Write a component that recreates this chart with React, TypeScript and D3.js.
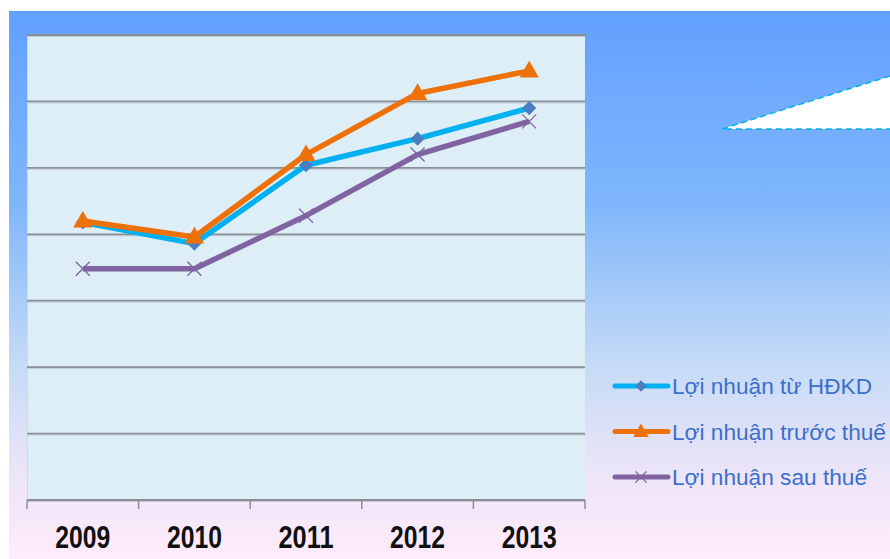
import * as d3 from "d3";
import React from "react";

const years = ["2009", "2010", "2011", "2012", "2013"];
const hdkd = [2090, 1930, 2520, 2720, 2950];
const truocThue = [2100, 1980, 2600, 3060, 3230];
const sauThue = [1740, 1740, 2140, 2600, 2850];
const gridTicks = [0, 500, 1000, 1500, 2000, 2500, 3000, 3500];

const seriesList = [
  { name: "Lợi nhuận từ HĐKD", values: hdkd, color: "#00b0f0", marker: "diamond", markerColor: "#4a7ebf" },
  { name: "Lợi nhuận trước thuế", values: truocThue, color: "#ee7009", marker: "triangle", markerColor: "#ee7009" },
  { name: "Lợi nhuận sau thuế", values: sauThue, color: "#8064a2", marker: "x", markerColor: "#8064a2" },
];

const W = 890;
const H = 559;
const plot = { left: 27, right: 585, top: 35, bottom: 500 };

function Marker({ kind, x, y, color, scale = 1 }) {
  if (kind === "x") {
    const r = 7 * scale;
    return (
      <g stroke={color} strokeWidth={1.3}>
        <line x1={x - r} y1={y - r} x2={x + r} y2={y + r} />
        <line x1={x - r} y1={y + r} x2={x + r} y2={y - r} />
      </g>
    );
  }
  if (kind === "diamond") {
    // square turned 45 degrees, like Excel's diamond marker
    const d = d3.symbol().type(d3.symbolSquare).size(100 * scale * scale)();
    return <path d={d} transform={`translate(${x},${y}) rotate(45)`} fill={color} />;
  }
  const d = d3.symbol().type(d3.symbolTriangle).size(160 * scale * scale)();
  return <path d={d} transform={`translate(${x},${y + 1})`} fill={color} />;
}

export default function App() {
  const x = d3.scaleBand().domain(years).range([plot.left, plot.right]).padding(0);
  const y = d3.scaleLinear().domain([0, 3500]).range([plot.bottom, plot.top]);
  const line = d3
    .line<number>()
    .x((_, i) => x(years[i])! + x.bandwidth() / 2)
    .y((v) => y(v));

  const ticksX = [...years.map((yr) => x(yr)!), plot.right];

  return (
    <svg
      width={W}
      height={H}
      style={{ position: "absolute", left: 0, top: 0, fontFamily: "'Liberation Sans', Arial, sans-serif" }}
    >
      <defs>
        <linearGradient id="bg" x1="0" y1="0" x2="0" y2="1">
          <stop offset="0" stopColor="#62a0ff" />
          <stop offset="0.35" stopColor="#7fb6fb" />
          <stop offset="0.65" stopColor="#c6dbf6" />
          <stop offset="0.85" stopColor="#ede5f8" />
          <stop offset="1" stopColor="#ffebfb" />
        </linearGradient>
      </defs>
      <rect x={0} y={0} width={W} height={H} fill="#ffffff" />
      <rect x={9} y={11} width={W - 9} height={H - 11} fill="url(#bg)" />

      {/* white callout shape */}
      <polygon points="722,129 890,76 890,129" fill="#ffffff" />
      <polyline points="890,76 722,129 890,129" fill="none" stroke="#00b0f0" strokeWidth={1.5} strokeDasharray="6,4" />

      {/* plot area */}
      <rect
        x={plot.left}
        y={plot.top}
        width={plot.right - plot.left}
        height={plot.bottom - plot.top}
        fill="#ddeef7"
      />
      <line x1={plot.left + 0.5} y1={plot.top} x2={plot.left + 0.5} y2={plot.bottom} stroke="#c4dcf0" strokeWidth={1} />

      {gridTicks.map((t) => (
        <g key={t}>
          <line x1={plot.left} x2={plot.right} y1={y(t) + 1.5} y2={y(t) + 1.5} stroke="#c2ccd8" strokeWidth={1} />
          <line x1={plot.left} x2={plot.right} y1={y(t)} y2={y(t)} stroke="#8a8f96" strokeWidth={1.8} />
        </g>
      ))}

      {ticksX.map((tx, i) => (
        <line key={i} x1={tx} x2={tx} y1={plot.bottom} y2={plot.bottom + 9} stroke="#8a8f96" strokeWidth={1.5} />
      ))}

      {years.map((yr) => (
        <text
          key={yr}
          x={x(yr)! + x.bandwidth() / 2}
          y={548}
          textAnchor="middle"
          fontSize={31}
          fontWeight="bold"
          fill="#111"
          textLength={55}
          lengthAdjust="spacingAndGlyphs"
        >
          {yr}
        </text>
      ))}

      {seriesList.map((s) => (
        <g key={s.name}>
          <path d={line(s.values)!} fill="none" stroke={s.color} strokeWidth={5.5} strokeLinejoin="round" />
          {s.values.map((v, i) => (
            <Marker
              key={i}
              kind={s.marker}
              x={x(years[i])! + x.bandwidth() / 2}
              y={y(v)}
              color={s.markerColor}
            />
          ))}
        </g>
      ))}

      {/* legend */}
      {seriesList.map((s, i) => {
        const ly = 386 + i * 45.5;
        const widths = [200, 214, 195];
        return (
          <g key={s.name}>
            <line x1={615} x2={668} y1={ly} y2={ly} stroke={s.color} strokeWidth={5} strokeLinecap="round" />
            <Marker kind={s.marker} x={641} y={ly} color={s.markerColor} scale={0.8} />
            <text
              x={672}
              y={ly + 8}
              fontSize={22}
              fill="#3c6fcc"
              textLength={widths[i]}
              lengthAdjust="spacingAndGlyphs"
            >
              {s.name}
            </text>
          </g>
        );
      })}
    </svg>
  );
}
